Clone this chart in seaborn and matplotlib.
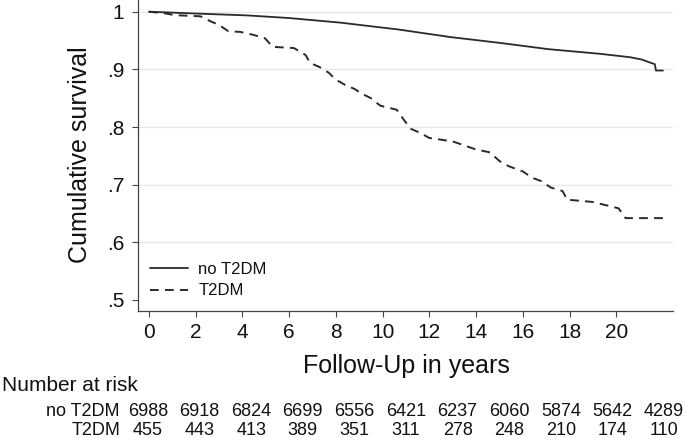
import matplotlib
matplotlib.use("Agg")
import matplotlib.pyplot as plt
import seaborn as sns
import pandas as pd
from matplotlib.lines import Line2D

# ---------------- data ----------------
no_t2dm_time = [0, 2.2, 4.2, 6.0, 8.2, 10.7, 12.9, 15.0, 17.1, 19.3, 20.6, 21.1, 21.5, 21.65, 21.7, 22.0]
no_t2dm_surv = [1.0, 0.9965, 0.9936, 0.989, 0.981, 0.969, 0.956, 0.946, 0.935, 0.927, 0.921, 0.917, 0.911, 0.909, 0.898, 0.898]

t2dm_time = [0, 0.7, 1.1, 2.2, 2.6, 3.0, 3.4, 3.9, 4.45, 4.96, 5.3, 6.2, 6.7, 6.9, 7.3, 7.7, 8.0, 8.4, 8.8,
             9.1, 9.5, 9.9, 10.6, 10.9, 11.2, 11.6, 12.0, 13.0, 13.5, 14.0, 14.6, 15.0, 15.4,
             16.0, 16.4, 16.8, 17.2, 17.7, 17.9, 19.0, 19.4, 20.1, 20.4, 22.0]
t2dm_surv = [1.0, 0.997, 0.994, 0.992, 0.984, 0.977, 0.966, 0.965, 0.960, 0.954, 0.939, 0.937, 0.925, 0.911, 0.904,
             0.894, 0.882, 0.873, 0.866, 0.858, 0.850, 0.837, 0.830, 0.813, 0.797, 0.790, 0.781,
             0.775, 0.768, 0.761, 0.756, 0.741, 0.732, 0.723, 0.712, 0.706, 0.695, 0.689, 0.674,
             0.670, 0.666, 0.659, 0.642, 0.642]

group_labels = ["no T2DM", "T2DM"]
x_ticks = [0, 2, 4, 6, 8, 10, 12, 14, 16, 18, 20]
y_ticks = [0.5, 0.6, 0.7, 0.8, 0.9, 1.0]
y_ticklabels = [".5", ".6", ".7", ".8", ".9", "1"]
risk_no_t2dm = [6988, 6918, 6824, 6699, 6556, 6421, 6237, 6060, 5874, 5642, 4289]
risk_t2dm = [455, 443, 413, 389, 351, 311, 278, 248, 210, 174, 110]

# ---------------- style ----------------
sns.set_style("white")
plt.rcParams["font.family"] = ["Liberation Sans", "DejaVu Sans"]

W, H = 685, 438
fig = plt.figure(figsize=(W / 100, H / 100), dpi=100)

def fx(px):
    return px / W

def fy(py):
    return (H - py) / H

ax_left, ax_right, ax_top, ax_bot = 138, 673, 0, 311
ax = fig.add_axes([fx(ax_left), fy(ax_bot), (ax_right - ax_left) / W, (ax_bot - ax_top) / H])

line_col = "#2a2a2a"
dash = (0, (4.5, 3.2))
df_no = pd.DataFrame({"time": no_t2dm_time, "surv": no_t2dm_surv})
df_t2 = pd.DataFrame({"time": t2dm_time, "surv": t2dm_surv})

sns.lineplot(data=df_no, x="time", y="surv", ax=ax, color=line_col, lw=1.3,
             estimator=None, sort=False)
sns.lineplot(data=df_t2, x="time", y="surv", ax=ax, color=line_col, lw=1.4,
             estimator=None, sort=False, linestyle=dash)

ax.set_xlim(-0.471, 22.43)
ax.set_ylim(0.4809, 1.0203)
ax.set_xticks(x_ticks)
ax.set_xticklabels([str(v) for v in x_ticks])
ax.set_yticks(y_ticks)
ax.set_yticklabels(y_ticklabels)
ax.set_xlabel("")
ax.set_ylabel("")

ax.yaxis.grid(True, color="#e6e6e6", lw=0.9)
ax.xaxis.grid(False)
ax.get_ygridlines()[0].set_visible(False)
ax.set_axisbelow(True)

for s in ["top", "right"]:
    ax.spines[s].set_visible(False)
for s in ["left", "bottom"]:
    ax.spines[s].set_color("#444444")
    ax.spines[s].set_linewidth(0.9)

ax.tick_params(axis="both", which="major", direction="out", length=4.3, width=0.8,
               color="#444444", labelsize=15, labelcolor="#111111")
ax.tick_params(axis="y", pad=5.5)
ax.tick_params(axis="x", pad=4.0)
ax.tick_params(left=True, bottom=True)

handles = [Line2D([], [], color=line_col, lw=1.3),
           Line2D([], [], color=line_col, lw=1.4, linestyle=dash)]
leg = ax.legend(handles, group_labels, frameon=False, loc="center left",
                bbox_to_anchor=((150 - ax_left) / (ax_right - ax_left), (ax_bot - 280) / (ax_bot - ax_top)),
                borderaxespad=0, borderpad=0, fontsize=12, handlelength=2.3,
                handletextpad=0.6, labelspacing=0.4)
for t in leg.get_texts():
    t.set_color("#111111")

# axis titles
fig.text(fx(80), fy(155), "Cumulative survival", rotation=90, ha="center", va="center",
         fontsize=18, color="#111111")
fig.text(fx(406), fy(373), "Follow-Up in years", ha="center", va="baseline",
         fontsize=18, color="#111111")

# number at risk table
fig.text(fx(2), fy(391), "Number at risk", ha="left", va="baseline", fontsize=15, color="#111111")
row_base = [416, 435]
for lab, vals, yb in zip(group_labels, [risk_no_t2dm, risk_t2dm], row_base):
    fig.text(fx(120), fy(yb), lab, ha="right", va="baseline", fontsize=13, color="#111111")
    for i, v in enumerate(vals):
        fig.text(fx(148 + 51.6 * i), fy(yb), str(v), ha="center", va="baseline",
                 fontsize=13, color="#111111")

fig.savefig("out.png", dpi=100)
